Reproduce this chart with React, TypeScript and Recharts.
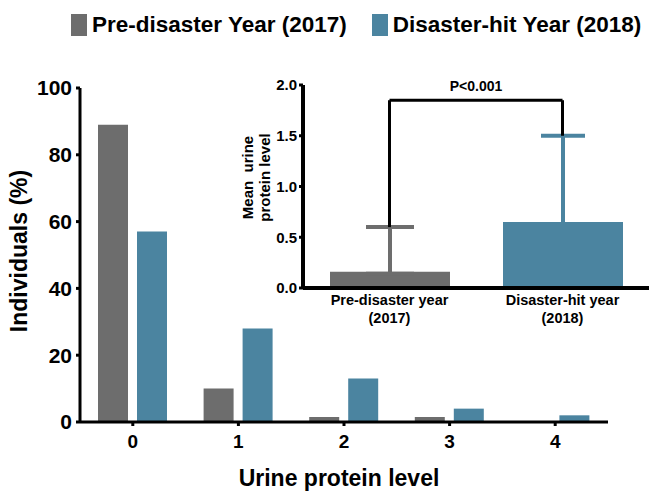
import { BarChart, Bar, XAxis, YAxis, Legend, ErrorBar, ReferenceLine, Label } from 'recharts';

// main chart: share of individuals per urine protein level
const levels = ['0', '1', '2', '3', '4'];
const seriesNames = ['Pre-disaster Year (2017)', 'Disaster-hit Year (2018)'];
const preDisaster = [89, 10, 1.5, 1.5, 0];
const disasterHit = [57, 28, 13, 4, 2];
const yTicks = [0, 20, 40, 60, 80, 100];

// inset: mean urine protein level with SD (upper whisker only)
const insetGroups = ['pre', 'post'];
const insetTickLines = [
  ['Pre-disaster year', '(2017)'],
  ['Disaster-hit year', '(2018)'],
];
const insetYLabel = ['Mean  urine', 'protein level'];
const insetMeans = [0.16, 0.65];
const insetSD = [0.44, 0.85];
const insetTicks = [0, 0.5, 1, 1.5, 2];
const bracketY = 1.85;
const pLabel = 'P<0.001';
// the lower cap of ErrorBar is tucked just inside the bar top so it stays hidden
const whiskerBase = 0.02;

const GRAY = '#6d6d6d';
const BLUE = '#4b84a0';
const FONT = '"Liberation Sans", Arial, Helvetica, sans-serif';

const mainData = levels.map((level, i) => ({ level, pre: preDisaster[i], post: disasterHit[i] }));

const insetData = [
  { group: insetGroups[0], pre: insetMeans[0], preErr: [whiskerBase, insetSD[0]] },
  { group: insetGroups[1], post: insetMeans[1], postErr: [whiskerBase, insetSD[1]] },
];

const LegendContent = ({ payload }: any) => {
  const items = [...(payload || [])].sort(
    (a: any, b: any) => seriesNames.indexOf(a.value) - seriesNames.indexOf(b.value)
  );
  return (
    <div
      style={{
        display: 'flex',
        alignItems: 'center',
        paddingLeft: 71,
        height: 40,
        fontFamily: FONT,
        fontWeight: 700,
        fontSize: 22.5,
        color: '#000',
      }}
    >
      {items.map((p: any) => (
        <div key={p.value} style={{ display: 'flex', alignItems: 'center', marginRight: 25 }}>
          <span style={{ display: 'inline-block', width: 16, height: 22, background: p.color, marginRight: 5 }} />
          <span style={{ whiteSpace: 'nowrap' }}>{p.value}</span>
        </div>
      ))}
    </div>
  );
};

const InsetTick = ({ x, y, payload }: any) => {
  const lines = insetTickLines[insetGroups.indexOf(payload.value)] || [];
  return (
    <text x={x} y={y} textAnchor="middle" fontFamily={FONT} fontWeight={700} fontSize={14.5} fill="#000">
      {lines.map((l, i) => (
        <tspan key={i} x={x} dy={i === 0 ? 17 : 18}>
          {l}
        </tspan>
      ))}
    </text>
  );
};

const tickStyle = { fill: '#000', fontFamily: FONT, fontWeight: 700 };

export default function App() {
  return (
    <div style={{ position: 'absolute', left: 0, top: 0, width: 649, height: 494, background: '#fff' }}>
      <BarChart
        width={649}
        height={494}
        data={mainData}
        margin={{ top: 48, right: 41, bottom: 0, left: 0 }}
        barSize={30}
        barGap={9}
      >
        <Legend verticalAlign="top" align="left" content={LegendContent} wrapperStyle={{ top: 5, left: 0, width: 649 }} />
        <XAxis
          dataKey="level"
          height={72}
          tickSize={4}
          tickMargin={9}
          axisLine={{ stroke: '#000', strokeWidth: 3 }}
          tickLine={{ stroke: '#000', strokeWidth: 3 }}
          tick={{ ...tickStyle, fontSize: 19 }}
        >
          <Label
            content={({ viewBox }: any) => (
              <text
                x={viewBox.x + viewBox.width / 2 - 5}
                y={486}
                textAnchor="middle"
                fontFamily={FONT}
                fontWeight={700}
                fontSize={23}
                fill="#000"
              >
                Urine protein level
              </text>
            )}
          />
        </XAxis>
        <YAxis
          width={80}
          domain={[0, 100]}
          ticks={yTicks}
          interval={0}
          tickSize={4}
          tickMargin={4}
          axisLine={{ stroke: '#000', strokeWidth: 3 }}
          tickLine={{ stroke: '#000', strokeWidth: 3 }}
          tick={{ ...tickStyle, fontSize: 21 }}
        >
          <Label
            content={({ viewBox }: any) => {
              const cy = viewBox.y + viewBox.height / 2 - 4;
              return (
                <text
                  x={27}
                  y={cy}
                  transform={`rotate(-90 27 ${cy})`}
                  textAnchor="middle"
                  fontFamily={FONT}
                  fontWeight={700}
                  fontSize={23}
                  fill="#000"
                >
                  Individuals (%)
                </text>
              );
            }}
          />
        </YAxis>
        <Bar dataKey="pre" name={seriesNames[0]} fill={GRAY} isAnimationActive={false} />
        <Bar dataKey="post" name={seriesNames[1]} fill={BLUE} isAnimationActive={false} />
      </BarChart>

      <div style={{ position: 'absolute', left: 220, top: 60, width: 429, height: 270 }}>
        <BarChart width={429} height={270} data={insetData} margin={{ top: 25, right: 0, bottom: 0, left: 0 }} barSize={120}>
          <XAxis
            xAxisId="a"
            dataKey="group"
            height={42}
            tickLine={false}
            tickSize={0}
            tickMargin={0}
            axisLine={{ stroke: '#000', strokeWidth: 4 }}
            tick={<InsetTick />}
          />
          <XAxis xAxisId="b" dataKey="group" hide />
          <YAxis
            width={83}
            domain={[0, 2]}
            ticks={insetTicks}
            interval={0}
            tickFormatter={(v: number) => v.toFixed(1)}
            tickSize={4}
            tickMargin={2}
            axisLine={{ stroke: '#000', strokeWidth: 4 }}
            tickLine={{ stroke: '#000', strokeWidth: 3 }}
            tick={{ ...tickStyle, fontSize: 15 }}
          >
            <Label
              content={({ viewBox }: any) => {
                const cy = viewBox.y + viewBox.height / 2 - 9;
                return (
                  <g>
                    {insetYLabel.map((line, i) => {
                      const lx = 33 + i * 17;
                      return (
                        <text
                          key={line}
                          x={lx}
                          y={cy}
                          transform={`rotate(-90 ${lx} ${cy})`}
                          textAnchor="middle"
                          fontFamily={FONT}
                          fontWeight={700}
                          fontSize={15}
                          fill="#000"
                          style={{ fontSize: 15, whiteSpace: 'pre' }}
                        >
                          {line}
                        </text>
                      );
                    })}
                  </g>
                );
              }}
            />
          </YAxis>
          <Bar xAxisId="a" dataKey="pre" fill={GRAY} isAnimationActive={false}>
            <ErrorBar dataKey="preErr" width={24} strokeWidth={4} stroke={GRAY} direction="y" />
          </Bar>
          <Bar xAxisId="b" dataKey="post" fill={BLUE} isAnimationActive={false}>
            <ErrorBar dataKey="postErr" width={22} strokeWidth={4} stroke={BLUE} direction="y" />
          </Bar>
          <ReferenceLine
            xAxisId="a"
            segment={[
              { x: insetGroups[0], y: insetMeans[0] + insetSD[0] },
              { x: insetGroups[0], y: bracketY },
            ]}
            stroke="#000"
            strokeWidth={3}
          />
          <ReferenceLine
            xAxisId="a"
            segment={[
              { x: insetGroups[0], y: bracketY },
              { x: insetGroups[1], y: bracketY },
            ]}
            stroke="#000"
            strokeWidth={3}
            label={{ value: pLabel, position: 'top', offset: 9, fill: '#000', fontSize: 14, fontWeight: 700, fontFamily: FONT }}
          />
          <ReferenceLine
            xAxisId="a"
            segment={[
              { x: insetGroups[1], y: bracketY },
              { x: insetGroups[1], y: insetMeans[1] + insetSD[1] },
            ]}
            stroke="#000"
            strokeWidth={3}
          />
        </BarChart>
      </div>
    </div>
  );
}
